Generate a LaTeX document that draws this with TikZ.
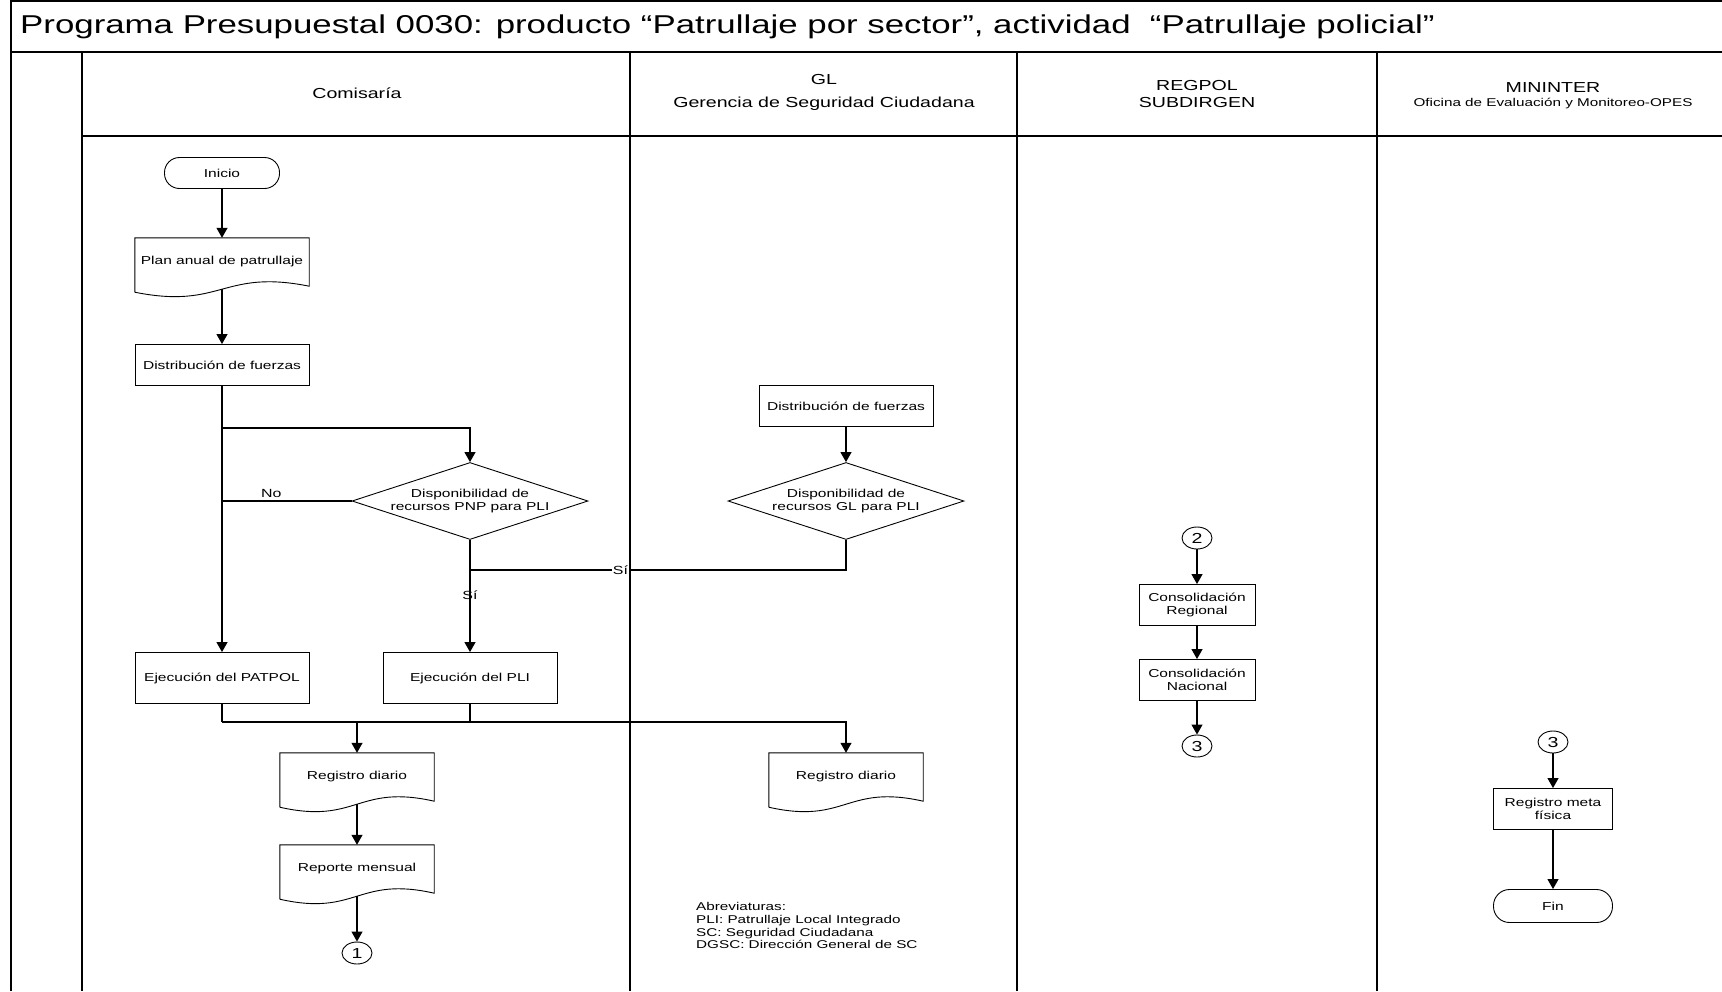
\documentclass[tikz,border=0pt]{standalone}
\usepackage{fontspec}
\setmainfont{Liberation Sans}[FakeStretch=1.35]
\usetikzlibrary{shapes.geometric,arrows.meta,calc}

\newcommand{\boxfont}{\fontsize{11.5}{13}\selectfont}

\tikzset{
	lane/.style={line width=1.7pt},
	proc/.style={draw, line width=0.9pt, rectangle, minimum height=41pt, align=center, font=\boxfont},
	term/.style={draw, line width=0.9pt, rectangle, rounded corners=15pt, minimum width=115pt, minimum height=31pt, font=\boxfont},
	deci/.style={draw, line width=0.9pt, diamond, aspect=3, inner sep=0pt, minimum width=236pt, minimum height=77pt, align=center, font=\boxfont},
	docu/.style={rectangle, minimum height=48pt, align=center, font=\boxfont},
	conn/.style={draw, line width=0.9pt, ellipse, minimum width=30pt, minimum height=22pt, inner sep=0pt, font=\fontsize{14.5}{15}\selectfont},
	lbl/.style={font=\fontsize{11.8}{13}\selectfont},
	flow/.style={line width=1.1pt, -{Triangle[width=11pt,length=10pt]}},
	link/.style={line width=1.1pt}
}

\newcommand{\docshape}[1]{%
	\draw[line width=0.9pt] ($(#1.south west)+(0,6)$) -- (#1.north west) -- (#1.north east) -- (#1.south east)
	.. controls ($(#1.south)+(0,-17.5)$) and ($(#1.south)+(0,23.5)$) .. ($(#1.south west)+(0,6)$);
	\coordinate (#1-w) at ($(#1.south)+(0,3)$);}

\begin{document}
\begin{tikzpicture}[x=1pt, y=-1pt, every node/.style={black}]
	\useasboundingbox (0,0) rectangle (1722,991);

	\draw[lane] (11,991) -- (11,1) -- (1722,1);
	\draw[lane] (11,52) -- (1722,52);
	\draw[lane] (82,136) -- (1722,136);
	\draw[lane] (82,52) -- (82,991);
	\draw[lane] (630,52) -- (630,991);
	\draw[lane] (1017,52) -- (1017,991);
	\draw[lane] (1377,52) -- (1377,991);

	\node[anchor=west, inner sep=0pt, font=\fontsize{25.8}{28}\selectfont] (titulo) at (20,27)
	{Programa Presupuestal 0030: producto “Patrullaje por sector”, actividad\ \ “Patrullaje policial”};

	\node[font=\fontsize{14.5}{16}\selectfont] (hcom) at (357,93) {Comisaría};
	\node[font=\fontsize{14.5}{16}\selectfont] (hgl) at (824,80) {GL};
	\node[font=\fontsize{14.5}{16}\selectfont] (hglsub) at (824,104) {Gerencia de Seguridad Ciudadana};
	\node[align=center, font=\fontsize{14.5}{17}\selectfont] (hreg) at (1197,94) {REGPOL\\SUBDIRGEN};
	\node[font=\fontsize{14.5}{16}\selectfont] (hmin) at (1553,88) {MININTER};
	\node[font=\fontsize{11.3}{12}\selectfont] (hminsub) at (1553,103.5) {Oficina de Evaluación y Monitoreo-OPES};

	\node[term] (inicio) at (222,173) {Inicio};
	\node[docu, minimum width=174pt] (plan) at (222,262) {Plan anual de patrullaje};
	\docshape{plan}
	\node[proc, minimum width=174pt] (dist) at (222,365) {Distribución de fuerzas};
	\node[deci] (dpnp) at (470,501) {Disponibilidad de\\recursos PNP para PLI};
	\node[proc, minimum width=174pt, minimum height=51pt] (ejpat) at (222,678) {Ejecución del PATPOL};
	\node[proc, minimum width=174pt, minimum height=51pt] (ejpli) at (470,678) {Ejecución del PLI};
	\node[docu, minimum width=154pt] (reg) at (357,777) {Registro diario};
	\docshape{reg}
	\node[docu, minimum width=154pt] (rep) at (357,869) {Reporte mensual};
	\docshape{rep}
	\node[conn] (c1) at (357,953) {1};

	\node[proc, minimum width=174pt] (distgl) at (846,406) {Distribución de fuerzas};
	\node[deci] (dgl) at (846,501) {Disponibilidad de\\recursos GL para PLI};
	\node[docu, minimum width=154pt] (reggl) at (846,777) {Registro diario};
	\docshape{reggl}

	\node[anchor=north west, align=left, inner sep=0pt, font=\fontsize{11.3}{12.8}\selectfont] (abrev) at (696,902)
	{Abreviaturas:\\PLI: Patrullaje Local Integrado\\SC: Seguridad Ciudadana\\DGSC: Dirección General de SC};

	\node[conn] (c2) at (1197,538) {2};
	\node[proc, minimum width=116pt] (creg) at (1197,605) {Consolidación\\Regional};
	\node[proc, minimum width=116pt] (cnac) at (1197,680) {Consolidación\\Nacional};
	\node[conn] (c3a) at (1197,746) {3};

	\node[conn] (c3b) at (1553,742) {3};
	\node[proc, minimum width=119pt] (meta) at (1553,809) {Registro meta\\física};
	\node[term, minimum width=119pt, minimum height=33pt, rounded corners=16pt] (fin) at (1553,906) {Fin};

	\coordinate (split) at (222,428);
	\coordinate (join) at (470,570);
	\coordinate (bus) at (222,722);

	\draw[flow] (inicio) -- (plan);
	\draw[flow] (plan-w) -- (dist);
	\draw[flow] (dist) -- (ejpat);
	\draw[flow] (split) -| (dpnp);
	\draw[link] (dpnp.west) -- node[above, pos=0.62, lbl] {No} (dpnp.west -| dist.south);
	\draw[flow] (dpnp) -- node[pos=0.49, lbl] {Sí} (ejpli);
	\draw[flow] (distgl) -- (dgl);
	\draw[link] (dgl) |- node[pos=0.8, fill=white, inner sep=1pt, lbl] {Sí} (join);

	\draw[link] (ejpat) -- (bus);
	\draw[link] (ejpli) -- (ejpli |- bus);
	\draw[flow] (bus) -| (reggl);
	\draw[flow] (reg |- bus) -- (reg);
	\draw[flow] (reg-w) -- (rep);
	\draw[flow] (rep-w) -- (c1);

	\draw[flow] (c2) -- (creg);
	\draw[flow] (creg) -- (cnac);
	\draw[flow] (cnac) -- (c3a);
	\draw[flow] (c3b) -- (meta);
	\draw[flow] (meta) -- (fin);
\end{tikzpicture}
\end{document}
